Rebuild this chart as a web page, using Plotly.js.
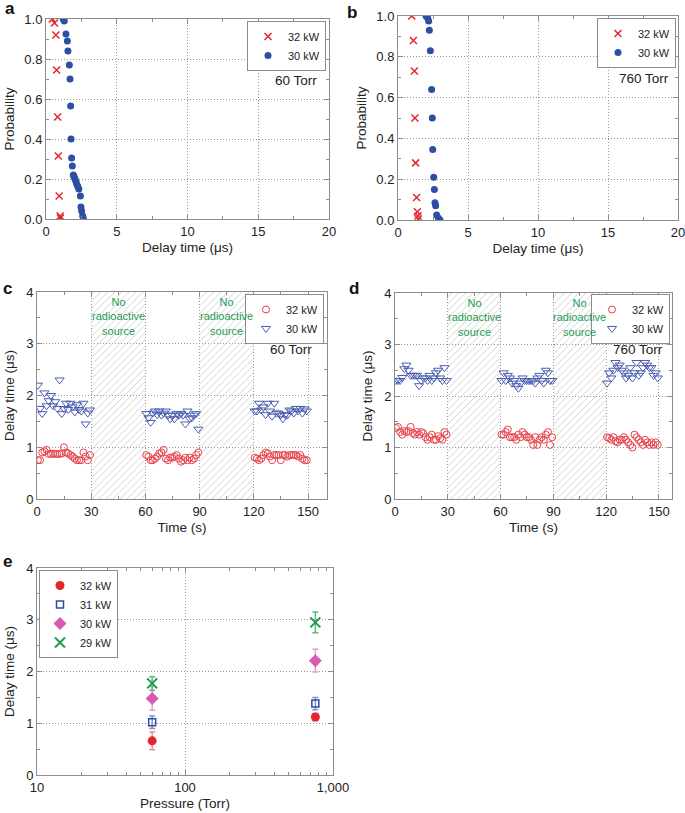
<!DOCTYPE html>
<html><head><meta charset="utf-8">
<script src="https://cdn.plot.ly/plotly-3.0.1.min.js"></script>
<style>body{margin:0;padding:0;background:#fff}#chart{width:685px;height:813px}</style>
</head><body><div id="chart"></div>
<script>
// ---------- DATA ----------
// Panel a (60 Torr): cumulative probability vs delay time (us)
const a32x = [0.45,0.6,0.7,0.75,0.82,0.87,0.93,1.0,1.02];
const a32y = [1.0,0.98,0.92,0.745,0.51,0.315,0.115,0.015,0.005];
const a30x = [1.22,1.29,1.41,1.51,1.55,1.65,1.70,1.74,1.77,1.81,1.86,1.93,1.98,2.05,2.12,2.18,2.25,2.32,2.43,2.47,2.52,2.59,2.64];
const a30y = [1.0,0.99,0.925,0.89,0.84,0.77,0.70,0.565,0.40,0.305,0.265,0.22,0.212,0.20,0.187,0.173,0.162,0.15,0.115,0.06,0.04,0.015,0.003];
// Panel b (760 Torr)
const b32x = [0.98,1.10,1.17,1.21,1.26,1.33,1.38,1.43,1.45];
const b32y = [1.0,0.88,0.73,0.50,0.28,0.11,0.04,0.02,0.005];
const b30x = [2.0,2.12,2.19,2.24,2.31,2.40,2.45,2.48,2.55,2.60,2.64,2.69,2.76,2.90,3.0];
const b30y = [1.0,0.99,0.975,0.93,0.83,0.64,0.50,0.345,0.21,0.15,0.085,0.07,0.025,0.008,0.0];
// Panels c, d: delay time vs time (s)
const tSeg1 = [0.5,1.7,2.9,4.1,5.3,6.5,7.7,8.9,10.1,11.3,12.5,13.7,14.9,16.1,17.3,18.5,19.7,20.9,22.1,23.3,24.5,25.7,26.9,28.1,29.3];
const tSeg2 = [60.5,61.7,62.9,64.1,65.3,66.5,67.7,68.9,70.1,71.3,72.5,73.7,74.9,76.1,77.3,78.5,79.7,80.9,82.1,83.3,84.5,85.7,86.9,88.1,89.3];
const tSeg3 = [120.5,121.7,122.9,124.1,125.3,126.5,127.7,128.9,130.1,131.3,132.5,133.7,134.9,136.1,137.3,138.5,139.7,140.9,142.1,143.3,144.5,145.7,146.9,148.1,149.3];
const c32 = [0.75,0.75,0.9,0.92,0.95,0.87,0.87,0.88,0.87,0.87,0.87,0.88,1.0,0.9,0.88,0.85,0.82,0.78,0.75,0.75,0.75,0.9,0.82,0.75,0.85,
             0.85,0.82,0.75,0.75,0.78,0.82,0.88,0.9,0.95,0.78,0.75,0.8,0.8,0.82,0.85,0.78,0.72,0.75,0.8,0.75,0.8,0.75,0.78,0.85,0.9,
             0.8,0.78,0.75,0.78,0.85,0.9,0.88,0.82,0.75,0.85,0.85,0.85,0.75,0.85,0.85,0.82,0.85,0.85,0.85,0.85,0.82,0.85,0.78,0.75,0.75];
const c30 = [2.2,1.75,1.65,2.05,1.8,1.9,2.0,1.8,1.88,1.75,2.3,1.65,1.75,1.85,1.73,1.85,1.78,1.68,1.82,1.73,1.7,1.85,1.45,1.66,1.72,
             1.65,1.57,1.48,1.66,1.7,1.63,1.7,1.62,1.66,1.7,1.62,1.55,1.62,1.55,1.65,1.62,1.65,1.62,1.45,1.7,1.55,1.57,1.62,1.65,1.35,
             1.7,1.7,1.85,1.72,1.78,1.63,1.85,1.7,1.6,1.85,1.66,1.66,1.62,1.55,1.63,1.62,1.72,1.7,1.66,1.75,1.7,1.75,1.66,1.74,1.7];
const d32 = [1.38,1.4,1.3,1.25,1.32,1.3,1.32,1.4,1.28,1.25,1.3,1.25,1.3,1.28,1.2,1.15,1.2,1.25,1.15,1.15,1.22,1.18,1.15,1.3,1.25,
             1.25,1.25,1.3,1.35,1.2,1.2,1.2,1.15,1.25,1.2,1.3,1.25,1.2,1.2,1.15,1.05,1.2,1.05,1.15,1.2,1.15,1.25,1.3,1.05,1.2,
             1.2,1.18,1.15,1.2,1.12,1.1,1.15,1.15,1.2,1.15,1.1,1.05,1.0,1.25,1.2,1.15,1.1,1.05,1.15,1.1,1.05,1.1,1.05,1.1,1.05];
const d30 = [2.3,2.3,2.3,2.36,2.53,2.6,2.5,2.4,2.4,2.4,2.4,2.2,2.3,2.35,2.35,2.3,2.4,2.3,2.35,2.45,2.5,2.35,2.3,2.55,2.3,
             2.3,2.45,2.3,2.4,2.35,2.25,2.3,2.2,2.15,2.25,2.35,2.3,2.3,2.3,2.3,2.3,2.25,2.35,2.4,2.3,2.25,2.5,2.45,2.3,2.3,
             2.25,2.45,2.35,2.5,2.65,2.55,2.6,2.5,2.45,2.35,2.4,2.55,2.35,2.45,2.65,2.4,2.45,2.55,2.65,2.6,2.55,2.55,2.4,2.45,2.35];
const shadeCenters = [45,105];
const shadeWidth = [30,30];
const shadeTop = [4,4];
// Panel e: delay time vs pressure
const pressure = [60,760];
const e32 = [0.66,1.12], e32err = [0.17,0.07];
const e31 = [1.02,1.38], e31err = [0.12,0.12];
const e30 = [1.48,2.21], e30err = [0.23,0.22];
const e29 = [1.77,2.95], e29err = [0.13,0.2];
const logMinor = [20,30,40,50,60,70,80,90,200,300,400,500,600,700,800,900];

// ---------- LAYOUT HELPERS ----------
const W=685,H=813;
const dx=(l,r)=>[l/W,r/W];
const dy=(t,b)=>[1-b/H,1-t/H];
const FONT='Liberation Sans, Arial, sans-serif';
const RED='#e4262c', BLUE='#2c4ea3', TRI='#4b5db0', CIRC='#e8424a', GREEN='#1e9a52';
const TK='#8c8c8c';
function ax(extra){
  return Object.assign({showline:true,linecolor:TK,linewidth:1,mirror:'ticks',ticks:'inside',ticklen:5,
    tickcolor:TK,showgrid:true,gridcolor:'#9a9a9a',griddash:'1px,2px',gridwidth:1,zeroline:false,
    ticklabeloverflow:'allow',tickfont:{size:13,color:'#222',family:FONT},automargin:false,fixedrange:true},extra);
}
const mn=(d)=>({dtick:d,ticks:'inside',ticklen:3,tickcolor:TK,showgrid:false});
const ttl=(t,s)=>({text:t,font:{size:13.5,color:'#222',family:FONT},standoff:s});
const legBase={bgcolor:'#fff',bordercolor:TK,borderwidth:1,font:{size:11,color:'#222',family:FONT},
  xanchor:'right',yanchor:'top',itemwidth:30,tracegroupgap:0};

const traces=[
 {x:a32x,y:a32y,type:'scatter',mode:'markers',name:'32 kW',xaxis:'x',yaxis:'y',legend:'legend',
  marker:{symbol:'x-thin-open',size:7,color:RED,line:{color:RED,width:1.5}}},
 {x:a30x,y:a30y,type:'scatter',mode:'markers',name:'30 kW',xaxis:'x',yaxis:'y',legend:'legend',
  marker:{symbol:'circle',size:7,color:BLUE}},
 {x:b32x,y:b32y,type:'scatter',mode:'markers',name:'32 kW',xaxis:'x2',yaxis:'y2',legend:'legend2',
  marker:{symbol:'x-thin-open',size:7,color:RED,line:{color:RED,width:1.5}}},
 {x:b30x,y:b30y,type:'scatter',mode:'markers',name:'30 kW',xaxis:'x2',yaxis:'y2',legend:'legend2',
  marker:{symbol:'circle',size:7,color:BLUE}},
 {x:shadeCenters,y:shadeTop,width:shadeWidth,type:'bar',xaxis:'x3',yaxis:'y3',showlegend:false,hoverinfo:'skip',
  marker:{color:'rgba(255,255,255,0)',line:{width:0},pattern:{shape:'/',fgcolor:'#c4c4c4',size:5,solidity:0.15}}},
 {x:tSeg1.concat(tSeg2,tSeg3),y:c32,type:'scatter',mode:'markers',name:'32 kW',xaxis:'x3',yaxis:'y3',legend:'legend3',
  marker:{symbol:'circle-open',size:7,color:CIRC,line:{width:1}}},
 {x:tSeg1.concat(tSeg2,tSeg3),y:c30,type:'scatter',mode:'markers',name:'30 kW',xaxis:'x3',yaxis:'y3',legend:'legend3',
  marker:{symbol:'triangle-down-open',size:8,color:TRI,line:{width:1}}},
 {x:shadeCenters,y:shadeTop,width:shadeWidth,type:'bar',xaxis:'x4',yaxis:'y4',showlegend:false,hoverinfo:'skip',
  marker:{color:'rgba(255,255,255,0)',line:{width:0},pattern:{shape:'/',fgcolor:'#c4c4c4',size:5,solidity:0.15}}},
 {x:tSeg1.concat(tSeg2,tSeg3),y:d32,type:'scatter',mode:'markers',name:'32 kW',xaxis:'x4',yaxis:'y4',legend:'legend4',
  marker:{symbol:'circle-open',size:7,color:CIRC,line:{width:1}}},
 {x:tSeg1.concat(tSeg2,tSeg3),y:d30,type:'scatter',mode:'markers',name:'30 kW',xaxis:'x4',yaxis:'y4',legend:'legend4',
  marker:{symbol:'triangle-down-open',size:8,color:TRI,line:{width:1}}},
 {x:pressure,y:e32,type:'scatter',mode:'markers',name:'32 kW',xaxis:'x5',yaxis:'y5',legend:'legend5',
  error_y:{type:'data',array:e32err,color:'#f08a8d',thickness:1.5,width:3},marker:{symbol:'circle',size:9,color:RED}},
 {x:pressure,y:e31,type:'scatter',mode:'markers',name:'31 kW',xaxis:'x5',yaxis:'y5',legend:'legend5',
  error_y:{type:'data',array:e31err,color:'#7f93cf',thickness:1.5,width:3},marker:{symbol:'square-open',size:7,color:BLUE,line:{width:1.5}}},
 {x:pressure,y:e30,type:'scatter',mode:'markers',name:'30 kW',xaxis:'x5',yaxis:'y5',legend:'legend5',
  error_y:{type:'data',array:e30err,color:'#e39ad0',thickness:1.5,width:3},marker:{symbol:'diamond',size:10,color:'#d65bb4'}},
 {x:pressure,y:e29,type:'scatter',mode:'markers',name:'29 kW',xaxis:'x5',yaxis:'y5',legend:'legend5',
  error_y:{type:'data',array:e29err,color:'#5cb97f',thickness:1.5,width:3},marker:{symbol:'x-thin-open',size:10,color:GREEN,line:{color:GREEN,width:2}}}
];

const noSrc='No<br>radioactive<br>source';
const annGreen=(xr,yr,x)=>({xref:xr,yref:yr,x:x,y:3.52,text:noSrc,showarrow:false,font:{size:11,color:GREEN,family:FONT},yanchor:'middle'});
const lab=(t,x,y)=>({xref:'paper',yref:'paper',x:x/W,y:1-y/H,text:'<b>'+t+'</b>',showarrow:false,font:{size:17,color:'#111',family:FONT},xanchor:'center',yanchor:'middle'});
const txt=(t,x,y)=>({xref:'paper',yref:'paper',x:x/W,y:1-y/H,text:t,showarrow:false,font:{size:13.5,color:'#222',family:FONT},xanchor:'center',yanchor:'middle'});

const layout={
 width:685,height:813,margin:{l:0,r:0,t:0,b:0},paper_bgcolor:'#fff',plot_bgcolor:'#fff',
 font:{family:FONT,color:'#222'},bargap:0,
 xaxis:ax({domain:dx(46,329),anchor:'y',range:[0,20],dtick:5,minor:mn(2.5),title:ttl('Delay time (\u03bcs)',4)}),
 yaxis:ax({domain:dy(19,219),anchor:'x',range:[0,1],dtick:0.2,tickformat:'.1f',minor:mn(0.1),title:ttl('Probability',6)}),
 xaxis2:ax({domain:dx(398,678),anchor:'y2',range:[0,20],dtick:5,minor:mn(2.5),title:ttl('Delay time (\u03bcs)',4)}),
 yaxis2:ax({domain:dy(16,220),anchor:'x2',range:[0,1],dtick:0.2,tickformat:'.1f',minor:mn(0.1),title:ttl('Probability',6)}),
 xaxis3:ax({domain:dx(37,327),anchor:'y3',range:[0,160.5],tickvals:[0,30,60,90,120,150],minor:mn(15),title:ttl('Time (s)',4)}),
 yaxis3:ax({domain:dy(292,499),anchor:'x3',range:[0,4],dtick:1,minor:mn(0.5),title:ttl('Delay time (\u03bcs)',8)}),
 xaxis4:ax({domain:dx(395,672),anchor:'y4',range:[0,157.4],tickvals:[0,30,60,90,120,150],minor:mn(15),title:ttl('Time (s)',4)}),
 yaxis4:ax({domain:dy(293,499),anchor:'x4',range:[0,4],dtick:1,minor:mn(0.5),title:ttl('Delay time (\u03bcs)',8)}),
 xaxis5:ax({domain:dx(37,333),anchor:'y5',type:'log',range:[1,3],tickvals:[10,100,1000],ticktext:['10','100','1,000'],
   minor:{tickvals:logMinor,ticks:'inside',ticklen:3,tickcolor:TK,showgrid:false},title:ttl('Pressure (Torr)',4)}),
 yaxis5:ax({domain:dy(568,775),anchor:'x5',range:[0,4],dtick:1,minor:mn(0.5),title:ttl('Delay time (\u03bcs)',8)}),
 legend:Object.assign({},legBase,{x:326/W,y:1-21/H}),
 legend2:Object.assign({},legBase,{x:676/W,y:1-18/H}),
 legend3:Object.assign({},legBase,{x:324/W,y:1-294/H}),
 legend4:Object.assign({},legBase,{x:670/W,y:1-294/H}),
 legend5:Object.assign({},legBase,{x:39/W,y:1-570/H,xanchor:'left'}),
 annotations:[
  lab('a',10,9),lab('b',352,12),lab('c',8,288),lab('d',354,288),lab('e',8,561),
  txt('60 Torr',296,80),txt('760 Torr',644,78),txt('60 Torr',291,350),txt('760 Torr',638,350),
  annGreen('x3','y3',45),annGreen('x3','y3',105),annGreen('x4','y4',45),annGreen('x4','y4',105)
 ]
};
Plotly.newPlot('chart',traces,layout,{staticPlot:true,displayModeBar:false});
</script></body></html>
